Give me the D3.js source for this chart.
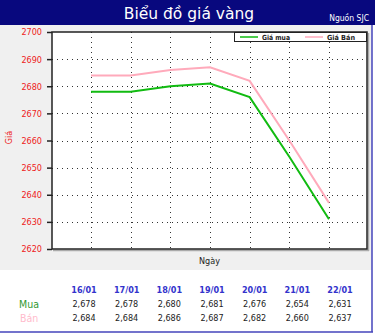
<!DOCTYPE html>
<html>
<head>
<meta charset="utf-8">
<script src="https://cdn.jsdelivr.net/npm/d3@7"></script>
<style>
  html, body { margin: 0; padding: 0; background: #fff; }
  svg { display: block; font-family: "DejaVu Sans Condensed", "DejaVu Sans", sans-serif; }
</style>
</head>
<body>
<svg id="chart" width="375" height="336"></svg>
<script>
(function(d3) {
	'use strict';

	var dates = ['16/01', '17/01', '18/01', '19/01', '20/01', '21/01', '22/01'];
	var buyValues = [2678, 2678, 2680, 2681, 2676, 2654, 2631];
	var sellValues = [2684, 2684, 2686, 2687, 2682, 2660, 2637];
	var yTicks = [2620, 2630, 2640, 2650, 2660, 2670, 2680, 2690, 2700];

	var svg = d3.select('#chart');
	var W = 375, H = 336;
	var plot = { left: 52, right: 367, top: 32, bottom: 249 };

	/** background */
	svg.append('rect').attr('width', W).attr('height', H).attr('fill', '#fff');
	svg.append('rect').attr('x', 0).attr('y', 24).attr('width', 372).attr('height', 246).attr('fill', '#f0f0f0');
	svg.append('rect').attr('x', 0).attr('y', 0).attr('width', W).attr('height', 25).attr('fill', '#08087e');
	svg.append('line').attr('x1', 372).attr('x2', 372).attr('y1', 25).attr('y2', 332)
		.attr('stroke', '#4444bb').attr('stroke-width', 1.5);
	svg.append('line').attr('x1', 0).attr('x2', 373).attr('y1', 332).attr('y2', 332)
		.attr('stroke', '#4444bb').attr('stroke-width', 1.5);

	/** title */
	svg.append('text').attr('x', 189).attr('y', 19).attr('text-anchor', 'middle')
		.attr('font-family', '"DejaVu Sans", sans-serif')
		.attr('fill', '#fff').attr('font-size', 15.5).text('Biểu đồ giá vàng');
	svg.append('text').attr('x', 369).attr('y', 21).attr('text-anchor', 'end')
		.attr('fill', '#fff').attr('font-size', 8.5).text('Nguồn SJC');

	/** scales */
	var x = d3.scaleLinear().domain([0, dates.length - 1]).range([91, 329]);
	var y = d3.scaleLinear().domain([2620, 2700]).range([plot.bottom, plot.top]);

	/** plot frame */
	svg.append('rect').attr('x', plot.left).attr('y', plot.top)
		.attr('width', plot.right - plot.left).attr('height', plot.bottom - plot.top)
		.attr('fill', '#fff');
	svg.append('line').attr('x1', plot.right + 1.5).attr('x2', plot.right + 1.5)
		.attr('y1', plot.top + 1).attr('y2', plot.bottom + 2).attr('stroke', '#aaa').attr('stroke-width', 1.5);
	svg.append('line').attr('x1', plot.left + 1).attr('x2', plot.right + 2)
		.attr('y1', plot.bottom + 1.5).attr('y2', plot.bottom + 1.5).attr('stroke', '#aaa').attr('stroke-width', 1.5);

	/** grid */
	var grid = svg.append('g').attr('stroke', '#333').attr('stroke-width', 1).attr('stroke-dasharray', '1,4');
	grid.selectAll('line.h').data(yTicks.slice(1, -1)).enter().append('line')
		.attr('x1', plot.left).attr('x2', plot.right)
		.attr('y1', function(d) { return Math.round(y(d)) + 0.5; })
		.attr('y2', function(d) { return Math.round(y(d)) + 0.5; });
	grid.selectAll('line.v').data(dates).enter().append('line')
		.attr('y1', plot.top).attr('y2', plot.bottom)
		.attr('x1', function(d, i) { return Math.round(x(i)) + 0.5; })
		.attr('x2', function(d, i) { return Math.round(x(i)) + 0.5; });

	svg.append('rect').attr('x', plot.left).attr('y', plot.top)
		.attr('width', plot.right - plot.left).attr('height', plot.bottom - plot.top)
		.attr('fill', 'none').attr('stroke', '#222').attr('stroke-width', 1.5);

	/** y axis */
	var yAxis = d3.axisLeft(y).tickValues(yTicks).tickSize(5).tickPadding(5).tickFormat(d3.format('d'));
	var axisG = svg.append('g').attr('transform', 'translate(' + plot.left + ',0)').call(yAxis);
	axisG.select('.domain').remove();
	axisG.selectAll('line').attr('stroke', '#222').attr('stroke-width', 1.5);
	axisG.selectAll('text').attr('fill', '#ee2222').attr('font-size', 9)
		.attr('font-family', '"DejaVu Sans Condensed", "DejaVu Sans", sans-serif');

	svg.append('text').attr('transform', 'translate(12,' + ((plot.top + plot.bottom) / 2 - 3) + ') rotate(-90)')
		.attr('text-anchor', 'middle').attr('fill', '#ee2222').attr('font-size', 9).text('Giá');
	svg.append('text').attr('x', (plot.left + plot.right) / 2).attr('y', 264).attr('text-anchor', 'middle')
		.attr('fill', '#222').attr('font-size', 9).text('Ngày');

	/** lines */
	var line = d3.line().x(function(d, i) { return x(i); }).y(function(d) { return y(d); });
	svg.append('path').datum(sellValues).attr('d', line).attr('fill', 'none')
		.attr('stroke', '#ffaabb').attr('stroke-width', 2);
	svg.append('path').datum(buyValues).attr('d', line).attr('fill', 'none')
		.attr('stroke', '#11bb11').attr('stroke-width', 2);

	/** legend */
	var legend = svg.append('g');
	legend.append('rect').attr('x', 234.5).attr('y', 32.5).attr('width', 132).attr('height', 9)
		.attr('fill', '#fff').attr('stroke', '#222').attr('stroke-width', 1);
	var legendItems = [
		{ label: 'Giá mua', color: '#11bb11', x: 240 },
		{ label: 'Giá Bán', color: '#ffaabb', x: 305 }
	];
	legendItems.forEach(function(item) {
		legend.append('line').attr('x1', item.x).attr('x2', item.x + 18).attr('y1', 37).attr('y2', 37)
			.attr('stroke', item.color).attr('stroke-width', 1.5);
		legend.append('text').attr('x', item.x + 22).attr('y', 40).attr('font-size', 7)
			.attr('font-weight', 'bold').attr('fill', '#222').attr('textLength', 28)
			.attr('lengthAdjust', 'spacingAndGlyphs').text(item.label);
	});

	/** table */
	var col = d3.scaleLinear().domain([0, dates.length - 1]).range([84, 340]);
	var table = svg.append('g').attr('font-size', 9).attr('text-anchor', 'middle');
	table.selectAll('text.date').data(dates).enter().append('text')
		.attr('x', function(d, i) { return col(i); }).attr('y', 293)
		.attr('fill', '#3333cc').attr('font-weight', 'bold').text(function(d) { return d; });
	var fmt = d3.format(',');
	table.selectAll('text.buy').data(buyValues).enter().append('text')
		.attr('x', function(d, i) { return col(i); }).attr('y', 307)
		.attr('fill', '#222').text(function(d) { return fmt(d); });
	table.selectAll('text.sell').data(sellValues).enter().append('text')
		.attr('x', function(d, i) { return col(i); }).attr('y', 321)
		.attr('fill', '#222').text(function(d) { return fmt(d); });
	svg.append('text').attr('x', 19).attr('y', 308).attr('font-size', 10.5)
		.attr('fill', '#339933').text('Mua');
	svg.append('text').attr('x', 20).attr('y', 322).attr('font-size', 10.5)
		.attr('fill', '#ffbbcc').text('Bán');
})(d3);
</script>
</body>
</html>
